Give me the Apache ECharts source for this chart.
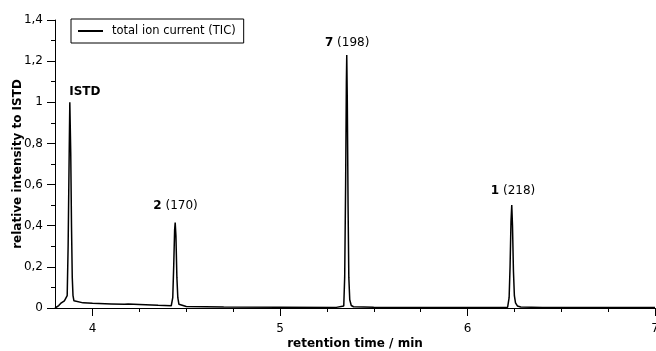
<!DOCTYPE html>
<html>
<head>
<meta charset="utf-8">
<script src="https://cdn.jsdelivr.net/npm/echarts@6/dist/echarts.min.js"></script>
<style>
html,body{margin:0;padding:0;background:#fff;}
#main{width:656px;height:351px;}
</style>
</head>
<body>
<div id="main"></div>
<script>
// retention time (min) / relative intensity
var ticData = [
    [3.800,0],[3.810,0.002],[3.820,0.012],[3.830,0.022],[3.840,0.030],[3.850,0.035],
    [3.858,0.040],[3.865,0.060],[3.870,0.30],[3.875,0.70],[3.879,1.00],[3.884,0.75],
    [3.888,0.40],[3.892,0.15],[3.896,0.06],[3.901,0.035],[3.910,0.028],[3.950,0.025],
    [4.000,0.023],[4.100,0.020],[4.170,0.018],[4.180,0.026],[4.190,0.019],[4.250,0.017],
    [4.350,0.013],[4.420,0.011],[4.428,0.050],[4.433,0.20],[4.438,0.38],[4.441,0.415],
    [4.445,0.35],[4.450,0.15],[4.455,0.05],[4.461,0.018],[4.468,0.010],[4.500,0.007],
    [4.700,0.005],[5.000,0.004],[5.300,0.003],[5.340,0.010],[5.345,0.15],[5.350,0.60],
    [5.354,1.10],[5.356,1.23],[5.359,1.00],[5.363,0.50],[5.367,0.15],[5.372,0.04],
    [5.380,0.012],[5.392,0.006],[5.500,0.004],[5.800,0.003],[6.200,0.003],[6.214,0.004],
    [6.222,0.05],[6.227,0.20],[6.232,0.42],[6.236,0.50],[6.240,0.40],[6.245,0.18],
    [6.250,0.06],[6.256,0.025],[6.266,0.010],[6.284,0.005],[6.400,0.003],[7.000,0.002]
];
// peak annotations: bold number, rest, label position
var peakNames = ['ISTD', '2', '7', '1'];
var peakRest = ['', ' (170)', ' (198)', ' (218)'];
var peakLabelPos = [[3.876,1.05],[4.443,0.495],[5.358,1.29],[6.243,0.57]];
var peakAlign = ['left','center','center','center'];

var xMajor = [4, 5, 6, 7];
var xMinor = [4.25, 4.5, 4.75, 5.25, 5.5, 5.75, 6.25, 6.5, 6.75];

var font = 'DejaVu Sans';

var marks = [];
for (var i = 0; i < peakNames.length; i++) {
    marks.push({
        coord: peakLabelPos[i],
        label: {
            align: peakAlign[i],
            formatter: '{b|' + peakNames[i] + '}' + peakRest[i]
        }
    });
}

var myChart = echarts.init(document.getElementById('main'));
var option = {
    animation: false,
    textStyle: {fontFamily: font},
    legend: {
        left: 71,
        top: 19,
        orient: 'vertical',
        borderColor: '#000',
        borderWidth: 1,
        padding: [5, 8, 5, 7],
        itemWidth: 25,
        itemHeight: 2,
        icon: 'rect',
        textStyle: {fontFamily: font, fontSize: 11.5, color: '#000', padding: [0, 0, 0, 4], lineHeight: 14},
        data: ['total ion current (TIC)']
    },
    grid: {left: 55, right: 1, top: 20, bottom: 43, containLabel: false, outerBoundsMode: 'none'},
    xAxis: [
        {
            type: 'value',
            min: 3.8,
            max: 7,
            name: 'retention time / min',
            nameLocation: 'middle',
            nameGap: 30,
            nameMoveOverlap: false,
            nameTextStyle: {fontFamily: font, fontSize: 12, fontWeight: 'bold', color: '#000'},
            axisLine: {show: true, lineStyle: {color: '#000', width: 1}},
            axisTick: {show: true, customValues: xMajor, length: 8, lineStyle: {color: '#000'}},
            axisLabel: {customValues: xMajor, color: '#000', fontSize: 12, margin: 15},
            splitLine: {show: false}
        },
        {
            type: 'value',
            min: 3.8,
            max: 7,
            position: 'bottom',
            axisLine: {show: true, lineStyle: {color: '#000', opacity: 0}},
            axisTick: {show: true, customValues: xMinor, length: 4, lineStyle: {color: '#000'}},
            axisLabel: {show: false},
            splitLine: {show: false}
        }
    ],
    yAxis: {
        type: 'value',
        min: 0,
        max: 1.4,
        interval: 0.2,
        name: 'relative intensity to ISTD',
        nameLocation: 'middle',
        nameGap: 31,
        nameMoveOverlap: false,
        nameTextStyle: {fontFamily: font, fontSize: 12, fontWeight: 'bold', color: '#000'},
        axisLine: {show: true, lineStyle: {color: '#000', width: 1}},
        axisTick: {show: true, length: 8, lineStyle: {color: '#000'}},
        minorTick: {show: true, splitNumber: 2, length: 4, lineStyle: {color: '#000'}},
        axisLabel: {
            color: '#000',
            fontSize: 12,
            margin: 12,
            formatter: function (v) {
                return String(+v.toFixed(1)).replace('.', ',');
            }
        },
        splitLine: {show: false}
    },
    series: [
        {
            name: 'total ion current (TIC)',
            type: 'line',
            data: ticData,
            showSymbol: false,
            symbol: 'none',
            lineStyle: {color: '#000', width: 1.5},
            itemStyle: {color: '#000'},
            markPoint: {
                symbol: 'circle',
                symbolSize: 0,
                silent: true,
                label: {
                    show: true,
                    position: 'inside',
                    color: '#000',
                    fontSize: 12,
                    fontFamily: font,
                    rich: {b: {fontWeight: 'bold', fontSize: 12, fontFamily: font, color: '#000'}}
                },
                data: marks
            }
        }
    ]
};
myChart.setOption(option);
</script>
</body>
</html>
